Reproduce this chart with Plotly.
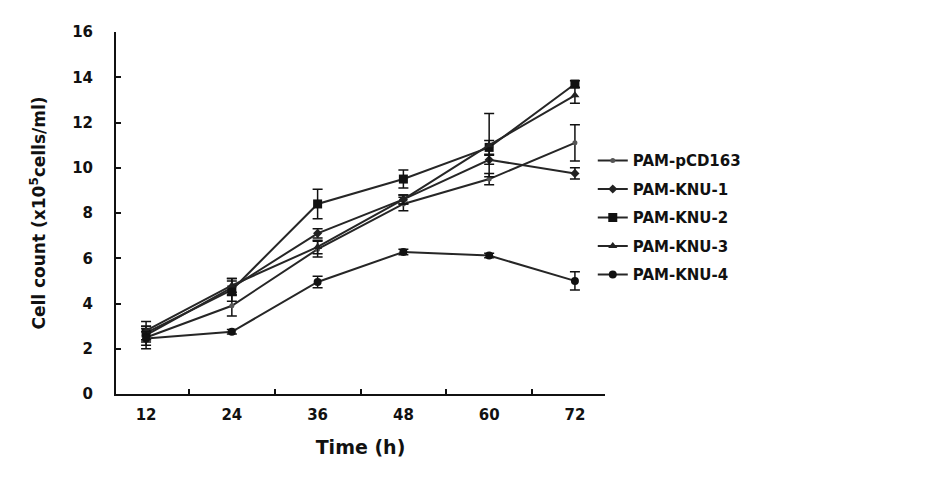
import plotly.graph_objects as go

times = ["12", "24", "36", "48", "60", "72"]
names = ["PAM-pCD163", "PAM-KNU-1", "PAM-KNU-2", "PAM-KNU-3", "PAM-KNU-4"]

pcd163 = [2.5, 3.9, 6.4, 8.4, 9.5, 11.1]
pcd163_err = [0.5, 0.45, 0.35, 0.3, 0.25, 0.8]
knu1 = [2.6, 4.7, 7.1, 8.6, 10.35, 9.75]
knu1_err = [0.3, 0.3, 0.2, 0.2, 0.2, 0.25]
knu2 = [2.7, 4.6, 8.4, 9.5, 10.9, 13.7]
knu2_err = [0.3, 0.5, 0.65, 0.4, 0.3, 0.15]
knu3 = [2.8, 4.8, 6.5, 8.6, 11.0, 13.2]
knu3_err = [0.4, 0.3, 0.3, 0.2, 1.4, 0.35]
knu4 = [2.45, 2.75, 4.95, 6.28, 6.12, 5.0]
knu4_err = [0.3, 0.1, 0.25, 0.12, 0.1, 0.4]

series = [pcd163, knu1, knu2, knu3, knu4]
errors = [pcd163_err, knu1_err, knu2_err, knu3_err, knu4_err]
symbols = ["circle", "diamond", "square", "triangle-up", "circle"]
sizes = [5, 7, 9, 8, 8]
mcolors = ["#555555", "#222222", "#111111", "#222222", "#111111"]

FONT = "DejaVu Sans, Liberation Sans, Arial"

fig = go.Figure()
for i, (nm, ys, er) in enumerate(zip(names, series, errors)):
    fig.add_trace(go.Scatter(
        x=times, y=ys, name=nm, mode="lines+markers",
        legendgroup=nm,
        line=dict(color="#262626", width=2),
        marker=dict(symbol=symbols[i], size=sizes[i], color=mcolors[i]),
        error_y=dict(type="data", array=er, visible=True, color="#111111",
                     thickness=1.5, width=5),
    ))

axis_font = dict(family=FONT, size=15, color="#111111", weight=700)

fig.update_layout(
    width=948, height=479,
    margin=dict(l=108, r=351, t=24, b=93),
    paper_bgcolor="white", plot_bgcolor="white",
    showlegend=True,
    legend=dict(x=0.975, xanchor="left", y=0.69, yanchor="top",
                font=dict(family=FONT, size=15, color="#111111", weight=700),
                tracegroupgap=6, bgcolor="rgba(0,0,0,0)", itemwidth=30),
    xaxis=dict(
        type="category", categoryorder="array", categoryarray=times,
        showline=True, linecolor="#111111", linewidth=2,
        ticks="inside", tickson="boundaries", ticklen=5, tickwidth=2, tickcolor="#111111",
        tickfont=axis_font, showgrid=False, zeroline=False, ticklabelstandoff=6,
        title=dict(text="Time (h)", font=dict(family=FONT, size=19,
                                              color="#111111", weight=700), standoff=18),
    ),
    yaxis=dict(
        range=[0, 16], dtick=2,
        showline=True, linecolor="#111111", linewidth=2,
        ticks="inside", ticklen=5, tickwidth=2, tickcolor="#111111",
        tickfont=axis_font, showgrid=False, zeroline=False, ticklabelstandoff=18,
        title=dict(text="Cell count (x10<sup>5</sup>cells/ml)",
                   font=dict(family=FONT, size=17, color="#111111", weight=700),
                   standoff=22),
    ),
)

fig.write_html("out.html")
